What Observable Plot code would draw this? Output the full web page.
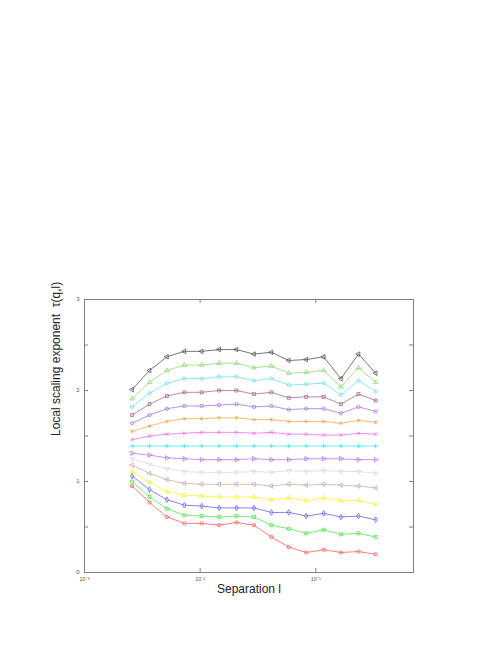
<!DOCTYPE html>
<html>
<head>
<meta charset="utf-8">
<script src="https://cdn.jsdelivr.net/npm/d3@7"></script>
<script src="https://cdn.jsdelivr.net/npm/@observablehq/plot@0.6"></script>
<style>
  html, body { margin: 0; padding: 0; background: #ffffff; }
  #chart { width: 498px; height: 645px; }
</style>
</head>
<body>
<div id="chart"></div>
<script>
// ---- data ----
const sepL = [0.00258, 0.00365, 0.00516, 0.0073, 0.0103, 0.0146, 0.0206, 0.0292, 0.0413, 0.0584, 0.0826, 0.117, 0.165, 0.234, 0.330];

const tau01 = [2.01, 2.22, 2.37, 2.43, 2.43, 2.45, 2.45, 2.40, 2.42, 2.33, 2.34, 2.37, 2.13, 2.40, 2.19];
const tau02 = [1.91, 2.09, 2.22, 2.28, 2.28, 2.30, 2.30, 2.25, 2.27, 2.19, 2.20, 2.22, 2.04, 2.25, 2.09];
const tau03 = [1.82, 1.97, 2.08, 2.13, 2.13, 2.15, 2.15, 2.11, 2.13, 2.06, 2.07, 2.08, 1.95, 2.11, 1.99];
const tau04 = [1.73, 1.85, 1.94, 1.98, 1.98, 2.00, 2.00, 1.96, 1.98, 1.92, 1.93, 1.93, 1.85, 1.96, 1.89];
const tau05 = [1.64, 1.73, 1.80, 1.83, 1.83, 1.84, 1.85, 1.82, 1.83, 1.79, 1.80, 1.80, 1.75, 1.82, 1.77];
const tau06 = [1.55, 1.61, 1.66, 1.69, 1.69, 1.70, 1.70, 1.68, 1.68, 1.66, 1.66, 1.66, 1.64, 1.67, 1.65];
const tau07 = [1.46, 1.50, 1.52, 1.53, 1.54, 1.54, 1.54, 1.53, 1.54, 1.52, 1.52, 1.51, 1.51, 1.53, 1.52];
const tau08 = [1.39, 1.39, 1.39, 1.39, 1.39, 1.39, 1.39, 1.39, 1.39, 1.39, 1.39, 1.39, 1.39, 1.39, 1.39];
const tau09 = [1.31, 1.29, 1.26, 1.25, 1.24, 1.24, 1.24, 1.25, 1.24, 1.24, 1.25, 1.25, 1.25, 1.24, 1.24];
const tau10 = [1.25, 1.19, 1.14, 1.11, 1.10, 1.10, 1.10, 1.11, 1.10, 1.12, 1.11, 1.12, 1.11, 1.11, 1.09];
const tau11 = [1.18, 1.09, 1.02, 0.98, 0.97, 0.97, 0.97, 0.97, 0.95, 0.97, 0.96, 0.97, 0.96, 0.95, 0.93];
const tau12 = [1.11, 0.99, 0.89, 0.85, 0.84, 0.83, 0.83, 0.83, 0.80, 0.82, 0.79, 0.82, 0.79, 0.79, 0.75];
const tau13 = [1.06, 0.91, 0.80, 0.74, 0.73, 0.71, 0.71, 0.71, 0.66, 0.66, 0.62, 0.65, 0.61, 0.62, 0.58];
const tau14 = [1.00, 0.83, 0.70, 0.63, 0.62, 0.61, 0.62, 0.61, 0.52, 0.48, 0.43, 0.47, 0.42, 0.43, 0.39];
const tau15 = [0.95, 0.77, 0.61, 0.54, 0.54, 0.52, 0.55, 0.52, 0.39, 0.28, 0.22, 0.25, 0.22, 0.23, 0.20];

const seriesValues = [tau01, tau02, tau03, tau04, tau05, tau06, tau07, tau08, tau09, tau10, tau11, tau12, tau13, tau14, tau15];
const seriesColors = ["#4a4a4a", "#86d868", "#66e0e0", "#a0608c", "#a070dc", "#ffa040", "#f060f0", "#30e8f0", "#b070ec", "#d8d8d8", "#c8a8a4", "#f2f226", "#5a5aff", "#40e840", "#ff5050"];
const seriesMarkers = ["triLeft", "triangle", "circle", "square", "circle", "asterisk", "times", "plus", "triRight", "triDown", "triLeft", "triangle", "diamond", "square", "circle"];

const yTicks = [0, 0.5, 1, 1.5, 2, 2.5, 3];
const yTickLabels = [0, 1, 2, 3];
const xTicks = [0.001, 0.01, 0.1];
const xTickLabels = ["10\u207B\u00B3", "10\u207B\u00B2", "10\u207B\u00B9"];
const xLabel = "Separation l";
const yLabel = "Local scaling exponent  \u03C4(q,l)";

// ---- custom marker shapes ----
const s3 = Math.sqrt(3);
const customSymbols = {
  triLeft: { draw(ctx, size) { const y = -Math.sqrt(size / (s3 * 3)); ctx.moveTo(y * 2, 0); ctx.lineTo(-y, -s3 * y); ctx.lineTo(-y, s3 * y); ctx.closePath(); } },
  triRight: { draw(ctx, size) { const y = -Math.sqrt(size / (s3 * 3)); ctx.moveTo(-y * 2, 0); ctx.lineTo(y, -s3 * y); ctx.lineTo(y, s3 * y); ctx.closePath(); } },
  triDown: { draw(ctx, size) { const y = -Math.sqrt(size / (s3 * 3)); ctx.moveTo(0, -y * 2); ctx.lineTo(-s3 * y, y); ctx.lineTo(s3 * y, y); ctx.closePath(); } }
};

const W = 498, H = 645;
const mL = 84, mR = 85, mT = 299, mB = 73;
const fw = W - mL - mR, fh = H - mT - mB;
const tickLen = 4;
const axisColor = "#808080";

const marks = [];
marks.push(Plot.frame({ stroke: axisColor, strokeWidth: 1 }));
// inward ticks
marks.push(Plot.tickY(yTicks, { y: d => d, stroke: axisColor, insetRight: fw - tickLen }));
marks.push(Plot.tickY(yTicks, { y: d => d, stroke: axisColor, insetLeft: fw - tickLen }));
marks.push(Plot.tickX(xTicks, { x: d => d, stroke: axisColor, insetTop: fh - tickLen }));
marks.push(Plot.tickX(xTicks, { x: d => d, stroke: axisColor, insetBottom: fh - tickLen }));
// tick labels
marks.push(Plot.text(yTickLabels, { y: d => d, text: d => String(d), frameAnchor: "left", dx: -5, textAnchor: "end", fontSize: 6, fill: "#555" }));
marks.push(Plot.text(xTicks, { x: d => d, text: (d, i) => xTickLabels[i], frameAnchor: "bottom", dy: 5, fontSize: 5.5, fill: "#555", lineAnchor: "top" }));
// axis titles
marks.push(Plot.text([xLabel], { text: d => d, frameAnchor: "bottom", dy: 20, fontSize: 12, fill: "#222", lineAnchor: "bottom" }));
marks.push(Plot.text([yLabel], { text: d => d, frameAnchor: "left", dx: -28, rotate: -90, fontSize: 12, fill: "#222" }));

seriesValues.forEach((vals, k) => {
  const rows = vals.map((v, i) => ({ l: sepL[i], tau: v }));
  const m = seriesMarkers[k];
  const sym = customSymbols[m] || m;
  marks.push(Plot.line(rows, { x: "l", y: "tau", stroke: seriesColors[k], strokeWidth: 0.75 }));
  marks.push(Plot.dot(rows, { x: "l", y: "tau", stroke: seriesColors[k], fill: "none", symbol: sym, r: 1.7, strokeWidth: 0.75 }));
});

const chart = Plot.plot({
  width: W,
  height: H,
  marginLeft: mL,
  marginRight: mR,
  marginTop: mT,
  marginBottom: mB,
  x: { type: "log", domain: [0.001, 0.70], axis: null },
  y: { domain: [0, 3], axis: null },
  style: { fontFamily: "'Liberation Sans', Arial, sans-serif", background: "#ffffff", overflow: "visible" },
  marks
});
document.getElementById("chart").appendChild(chart);
</script>
</body>
</html>
